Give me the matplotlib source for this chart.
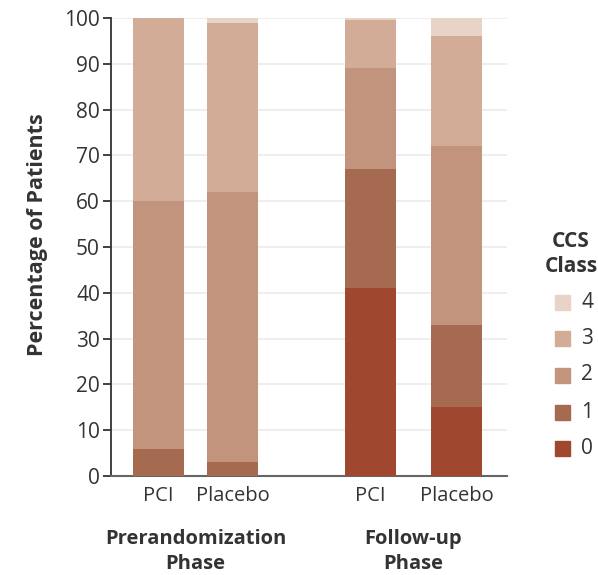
import matplotlib
matplotlib.use("Agg")
import matplotlib.pyplot as plt
from matplotlib.patches import Rectangle

plt.rcParams['font.family'] = ['Open Sans', 'DejaVu Sans']

groups = ["PCI", "Placebo", "PCI", "Placebo"]
phases = ["Prerandomization\nPhase", "Follow-up\nPhase"]
classes = ["0", "1", "2", "3", "4"]
# percentage per CCS class, per bar (Pre PCI, Pre Placebo, Follow PCI, Follow Placebo)
class0 = [0, 0, 41, 15]
class1 = [6, 3, 26, 18]
class2 = [54, 59, 22, 39]
class3 = [40, 37, 10.5, 24]
class4 = [0, 1, 0.5, 4]
series = [class0, class1, class2, class3, class4]
colors = ["#A0472F", "#A66A51", "#C3947D", "#D3AC98", "#E8D4C7"]

positions = [158.5, 232.5, 370.5, 456.5]
bar_width = 51

fig = plt.figure(figsize=(5.98, 5.75), dpi=100)
ax = fig.add_axes([111/598, 1-476/575, 396/598, 458/575])

bottom = [0]*len(positions)
for vals, col in zip(series, colors):
    ax.bar(positions, vals, width=bar_width, bottom=bottom, color=col,
           edgecolor='none', zorder=3)
    bottom = [b+v for b, v in zip(bottom, vals)]

ax.set_xlim(111, 507)
ax.set_ylim(0, 100)
ax.set_yticks(range(0, 101, 10))
for y in range(10, 101, 10):
    ax.axhline(y, color='#ebebeb', lw=1.2, zorder=1)

for s in ['top', 'right']:
    ax.spines[s].set_visible(False)
ax.spines['left'].set_color('#333333')
ax.spines['left'].set_linewidth(1.3)
ax.spines['bottom'].set_color('#666666')
ax.spines['bottom'].set_linewidth(1.5)
ax.tick_params(axis='y', direction='out', length=6, width=1.3, color='#333333',
               labelsize=15, labelcolor='#333333', pad=2)
ax.set_xticks(positions)
ax.set_xticklabels(groups, fontsize=14.5, color='#333333')
ax.tick_params(axis='x', length=0, pad=7)

ax.set_ylabel("Percentage of Patients", fontsize=15.5, fontweight='bold',
              color='#333333', va='center')
ax.yaxis.set_label_coords((38-111)/396, (476-235)/458)

# phase labels
for i, ph in enumerate(phases):
    ax.text((positions[2*i]+positions[2*i+1])/2, -11.5, ph, ha='center', va='top',
            fontsize=14.5, fontweight='bold', color='#333333', linespacing=1.35)

# legend
fig.text(571/598, 1-254/575, "CCS\nClass", ha='center', va='center', fontsize=15,
         fontweight='bold', color='#333333', linespacing=1.3)
leg_y = [448, 412, 375, 338, 302]
for lab, col, yy in zip(classes, colors, leg_y):
    fig.patches.append(Rectangle((555/598, 1-(yy+8)/575), 15/598, 15/575,
                                 transform=fig.transFigure, color=col, figure=fig))
    fig.text(581/598, 1-yy/575, lab, ha='left', va='center', fontsize=15,
             color='#333333')

fig.savefig("out.png", dpi=100)
